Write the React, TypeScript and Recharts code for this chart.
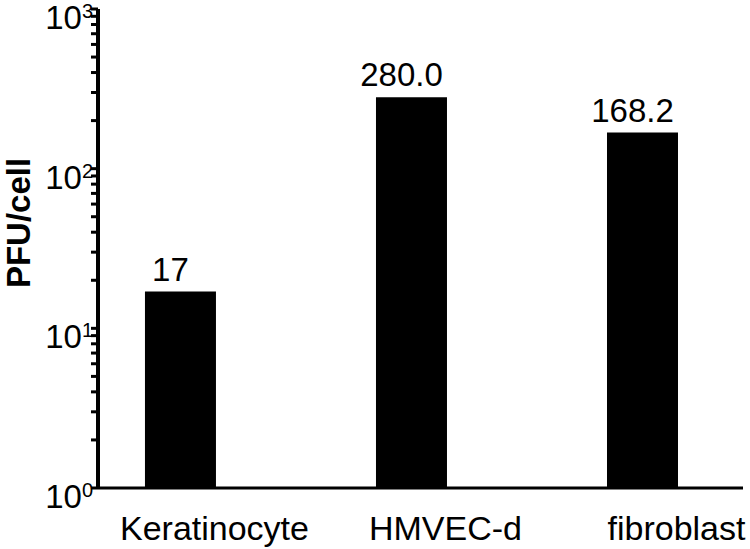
import { Bar, BarChart, LabelList, XAxis, YAxis } from 'recharts';

const categories = ['Keratinocyte', 'HMVEC-d', 'fibroblast'];
const values = [17, 280.0, 168.2];
const valueLabels = ['17', '280.0', '168.2'];
const majorTicks = [1, 10, 100, 1000];
const minorTicks = [2, 3, 4, 5, 6, 7, 8, 9, 20, 30, 40, 50, 60, 70, 80, 90, 200, 300, 400, 500, 600, 700, 800, 900];

const data = categories.map((name, i) => ({ pos: i, name, value: values[i], label: valueLabels[i] }));

const FONT = '"Liberation Sans", Arial, Helvetica, sans-serif';

const YTick = (props: any) => {
  const { x, y, payload } = props;
  if (!majorTicks.includes(payload.value)) return null;
  const exp = Math.round(Math.log10(payload.value));
  return (
    <text x={x + 2} y={y + 20} textAnchor="end" fontFamily={FONT} fill="#000">
      <tspan fontSize={33}>10</tspan>
      <tspan fontSize={20} dy={-11}>{exp}</tspan>
    </text>
  );
};

const XTick = (props: any) => {
  const { x, y, payload } = props;
  return (
    <text x={x + 34} y={y + 44} textAnchor="middle" fontFamily={FONT} fontSize={34} fill="#000">
      {categories[payload.value]}
    </text>
  );
};

export default function App() {
  return (
    <div style={{ position: 'absolute', left: 0, top: 0, background: '#fff' }}>
      <BarChart width={750} height={549} data={data} margin={{ top: 9, right: 7, left: 0, bottom: 0 }}>
        <XAxis
          type="number"
          dataKey="pos"
          domain={[-0.357, 2.435]}
          allowDataOverflow
          ticks={[0, 1, 2]}
          tick={<XTick />}
          tickLine={false}
          axisLine={{ stroke: '#000', strokeWidth: 3 }}
          height={61}
        />
        <YAxis
          scale="log"
          domain={[1, 1000]}
          allowDataOverflow
          ticks={[...majorTicks, ...minorTicks]}
          interval={0}
          tick={<YTick />}
          tickSize={7}
          tickMargin={0}
          tickLine={{ stroke: '#000', strokeWidth: 3 }}
          axisLine={{ stroke: '#000', strokeWidth: 4 }}
          width={98}
          label={({ viewBox }: any) => (
            <text
              x={viewBox.x + 18}
              y={223}
              transform={`rotate(-90 ${viewBox.x + 18} 223)`}
              textAnchor="middle"
              dominantBaseline="central"
              fontFamily={FONT}
              fontWeight="bold"
              fontSize={33}
              fill="#000"
            >
              PFU/cell
            </text>
          )}
        />
        <Bar dataKey="value" fill="#000" barSize={71} isAnimationActive={false}>
          <LabelList dataKey="label" position="top" offset={11} dx={-10} fill="#000" fontSize={33} fontFamily={FONT} />
        </Bar>
      </BarChart>
    </div>
  );
}
